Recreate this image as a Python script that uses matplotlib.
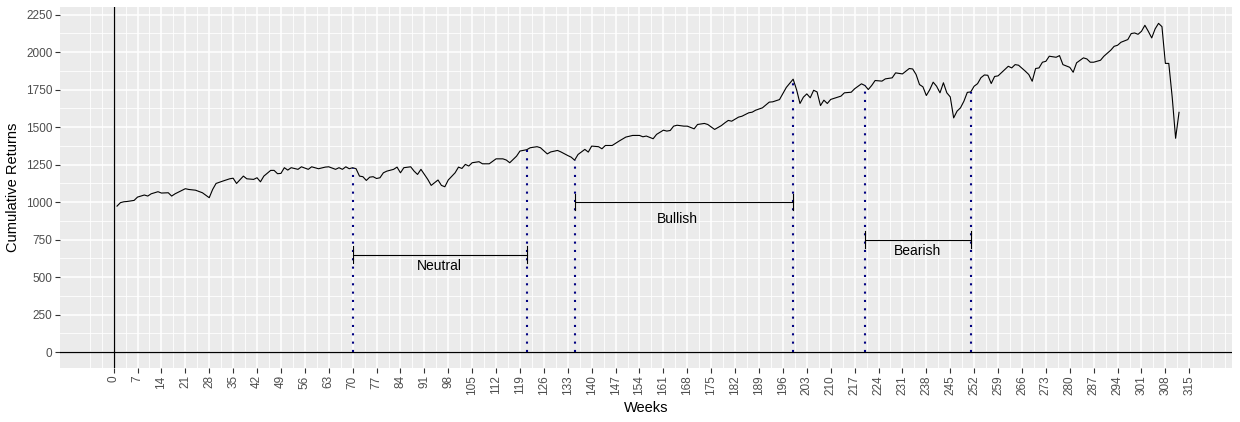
import numpy as np
import matplotlib
from matplotlib import pyplot as plt
from matplotlib.ticker import FixedLocator

# Use the Agg non-interactive backend, to save the plot
matplotlib.use('agg')

# Weekly cumulative returns
weeks = [1, 2, 3, 4, 6, 7, 9, 10, 11, 13, 14, 16, 17, 18, 21, 22, 24, 26, 28, 29,
         30, 32, 34, 35, 36, 38, 39, 41, 42, 43, 44, 46, 47, 48, 49, 50, 51, 52, 54, 55,
         57, 58, 60, 62, 63, 65, 66, 67, 68, 69, 70, 71, 72, 73, 74, 75, 76, 77, 78, 79,
         80, 82, 83, 84, 85, 87, 88, 89, 90, 91, 92, 93, 94, 95, 96, 97, 98, 100, 101, 102,
         103, 104, 105, 107, 108, 110, 112, 114, 115, 116, 118, 119, 121, 122, 124, 125, 127, 128, 130, 131,
         133, 134, 135, 136, 138, 139, 140, 142, 143, 144, 146, 148, 150, 152, 154, 155, 156, 158, 159, 161,
         162, 163, 164, 165, 167, 168, 170, 171, 173, 174, 176, 178, 179, 180, 181, 183, 184, 186, 187, 188,
         190, 192, 193, 195, 197, 199, 200, 201, 202, 203, 204, 205, 206, 207, 208, 209, 210, 212, 213, 214,
         216, 217, 219, 220, 221, 222, 223, 225, 226, 228, 229, 231, 233, 234, 235, 236, 237, 238, 239, 240,
         241, 242, 243, 244, 245, 246, 247, 248, 249, 250, 251, 252, 253, 254, 255, 256, 257, 258, 259, 261,
         262, 263, 264, 265, 267, 268, 269, 270, 271, 272, 273, 274, 276, 277, 278, 280, 281, 282, 284, 285,
         286, 287, 289, 290, 292, 293, 294, 295, 297, 298, 299, 300, 301, 302, 303, 304, 305, 306, 307, 308,
         309, 310, 311, 312]
returns = [974, 997, 1003, 1005, 1012, 1034, 1048, 1041, 1056, 1070, 1061, 1063, 1041, 1056, 1090, 1085, 1080, 1063, 1030, 1085,
           1125, 1141, 1156, 1160, 1125, 1174, 1156, 1152, 1163, 1136, 1174, 1212, 1212, 1190, 1192, 1230, 1214, 1230, 1219, 1236,
           1219, 1236, 1223, 1234, 1236, 1219, 1230, 1219, 1236, 1223, 1230, 1223, 1174, 1170, 1145, 1167, 1170, 1158, 1163, 1196,
           1207, 1219, 1234, 1196, 1230, 1236, 1207, 1185, 1219, 1185, 1152, 1112, 1130, 1148, 1112, 1103, 1148, 1196, 1234, 1225,
           1252, 1241, 1263, 1270, 1256, 1256, 1289, 1289, 1281, 1263, 1307, 1341, 1350, 1363, 1370, 1363, 1322, 1335, 1345, 1335,
           1311, 1300, 1280, 1318, 1352, 1334, 1374, 1370, 1356, 1378, 1378, 1407, 1434, 1445, 1445, 1436, 1441, 1423, 1452, 1480,
           1474, 1478, 1507, 1513, 1507, 1507, 1489, 1518, 1525, 1518, 1485, 1511, 1529, 1545, 1540, 1567, 1573, 1596, 1600, 1613,
           1629, 1667, 1669, 1684, 1765, 1820, 1750, 1658, 1700, 1722, 1696, 1746, 1735, 1644, 1680, 1658, 1685, 1700, 1707, 1729,
           1733, 1756, 1789, 1778, 1751, 1778, 1811, 1807, 1822, 1829, 1862, 1855, 1891, 1888, 1851, 1784, 1769, 1711, 1750, 1800,
           1773, 1729, 1796, 1729, 1702, 1562, 1607, 1629, 1673, 1732, 1735, 1773, 1790, 1830, 1848, 1846, 1791, 1838, 1842, 1884,
           1906, 1895, 1917, 1913, 1873, 1851, 1806, 1891, 1895, 1933, 1939, 1973, 1966, 1977, 1917, 1899, 1866, 1929, 1962, 1955,
           1933, 1933, 1946, 1973, 2013, 2039, 2046, 2066, 2084, 2124, 2128, 2119, 2139, 2179, 2139, 2095, 2155, 2192, 2170, 1925,
           1925, 1700, 1426, 1599]

# Market periods
period_names = ['Neutral', 'Bullish', 'Bearish']
period_start = [70, 135, 220]
period_end = [121, 199, 251]
bracket_y = [650, 1000, 750]
label_x = [95.5, 165, 235.5]
label_y = [575, 890, 675]

x_ticks = list(range(0, 316, 7))
y_ticks = list(range(0, 2251, 250))

plt.rcParams['font.family'] = ['Liberation Sans', 'DejaVu Sans']

fig = plt.figure(figsize=(12.4, 4.22), dpi=100)
ax = fig.add_axes([60 / 1240, 1 - 367.7 / 422, (1232.3 - 60) / 1240, (367.7 - 6.7) / 422])
ax.set_facecolor('#EBEBEB')
for spine in ax.spines.values():
    spine.set_visible(False)

ax.set_xlim(-15.7, 327.6)
ax.set_ylim(-103, 2303)

ax.xaxis.set_major_locator(FixedLocator(x_ticks))
ax.xaxis.set_minor_locator(FixedLocator(np.arange(-7, 326, 3.5)))
ax.yaxis.set_major_locator(FixedLocator(y_ticks))
ax.yaxis.set_minor_locator(FixedLocator(np.arange(125, 2250, 250)))
ax.grid(which='major', color='white', lw=1.1)
ax.grid(which='minor', color='white', lw=0.6)
ax.set_axisbelow(True)
ax.tick_params(which='minor', length=0)
ax.tick_params(which='major', length=3.5, width=0.8, color='#333333',
               labelcolor='#4D4D4D', labelsize=8.5, pad=2)
ax.tick_params(axis='x', labelrotation=90)

# Axes through the origin
ax.axhline(0, color='black', lw=0.9)
ax.axvline(0, color='black', lw=0.9)

# Cumulative returns
ax.plot(weeks, returns, color='black', lw=0.8)

# Dotted markers for the start/end of each period, up to the curve
value_at = dict(zip(weeks, returns))
for s, e in zip(period_start, period_end):
    for w in (s, e):
        ax.plot([w, w], [0, value_at[w]], color='#000080', lw=1.5,
                linestyle=(0, (1, 3)), dash_capstyle='butt')

# Brackets with the period labels
for name, s, e, y, lx, ly in zip(period_names, period_start, period_end,
                                 bracket_y, label_x, label_y):
    ax.plot([s, e], [y, y], color='black', lw=0.8)
    ax.plot([s, s], [y - 55, y + 55], color='black', lw=0.8)
    ax.plot([e, e], [y - 55, y + 55], color='black', lw=0.8)
    ax.text(lx, ly, name, ha='center', va='center', fontsize=10, color='black')

ax.set_xlabel('Weeks', fontsize=10.5, labelpad=4)
ax.set_ylabel('Cumulative Returns', fontsize=10.5, labelpad=4)

fig.savefig('out.png', dpi=100)
